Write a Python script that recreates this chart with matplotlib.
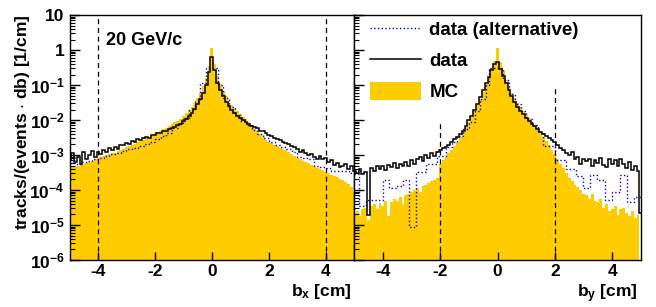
import numpy as np
import matplotlib
matplotlib.use("Agg")
import matplotlib.pyplot as plt
from matplotlib import ticker
from matplotlib.lines import Line2D
from matplotlib.patches import Patch

plt.rcParams['font.family'] = ['Liberation Sans', 'DejaVu Sans']
plt.rcParams['font.weight'] = 'bold'
plt.rcParams['axes.labelweight'] = 'bold'
plt.rcParams['mathtext.fontset'] = 'custom'
plt.rcParams['mathtext.rm'] = 'Liberation Sans:bold'
plt.rcParams['mathtext.bf'] = 'Liberation Sans:bold'
plt.rcParams['mathtext.it'] = 'Liberation Sans:bold'
plt.rcParams['mathtext.default'] = 'bf'
plt.rcParams['axes.unicode_minus'] = False

# bins of 0.1 cm, centres -5.0 ... 5.0 (MC and data)
bin_edges = np.linspace(-5.05, 5.05, 102)

# log10 of tracks/(events db) [1/cm]
bx_mc = [
    -3.37, -3.35, -3.33, -3.30, -3.28, -3.25, -3.22, -3.20, -3.16, -3.12,
    -3.08, -3.06, -3.04, -3.01, -2.98, -2.95, -2.93, -2.89, -2.86, -2.82,
    -2.78, -2.74, -2.71, -2.68, -2.64, -2.60, -2.56, -2.52, -2.48, -2.43,
    -2.38, -2.34, -2.30, -2.26, -2.22, -2.17, -2.12, -2.07, -2.02, -1.96,
    -1.88, -1.80, -1.72, -1.62, -1.50, -1.38, -1.22, -1.02, -0.80, -0.45,
    0.05,
    -0.40, -0.75, -0.98, -1.16, -1.32, -1.45, -1.56, -1.65, -1.74, -1.82,
    -1.90, -1.98, -2.06, -2.14, -2.22, -2.30, -2.40, -2.48, -2.56, -2.63,
    -2.67, -2.71, -2.75, -2.79, -2.83, -2.87, -2.92, -2.98, -3.03, -3.08,
    -3.12, -3.16, -3.20, -3.24, -3.28, -3.32, -3.36, -3.40, -3.44, -3.48,
    -3.52, -3.56, -3.60, -3.64, -3.68, -3.72, -3.77, -3.82, -3.90, -4.05,
]
bx_data = [
    -3.15, -2.95, -3.20, -3.05, -3.25, -2.90, -3.10, -3.00, -2.88, -3.05,
    -2.92, -2.98, -2.85, -2.90, -2.80, -2.86, -2.76, -2.82, -2.72, -2.70,
    -2.66, -2.68, -2.60, -2.62, -2.55, -2.57, -2.52, -2.48, -2.50, -2.44,
    -2.42, -2.38, -2.37, -2.32, -2.30, -2.26, -2.22, -2.20, -2.15, -2.10,
    -2.02, -1.96, -1.88, -1.80, -1.68, -1.55, -1.40, -1.22, -1.00, -0.62,
    -0.19,
    -0.58, -0.95, -1.15, -1.32, -1.48, -1.60, -1.70, -1.80, -1.88, -1.95,
    -2.00, -2.06, -2.10, -2.16, -2.20, -2.24, -2.30, -2.32, -2.38, -2.42,
    -2.46, -2.52, -2.55, -2.58, -2.62, -2.66, -2.68, -2.75, -2.78, -2.82,
    -2.90, -2.86, -2.95, -3.00, -2.96, -3.05, -3.10, -3.02, -3.12, -3.08,
    -3.20, -3.15, -3.28, -3.22, -3.35, -3.30, -3.25, -3.40, -3.32, -3.45,
]
bx_alt_edges = [
    -5.0, -4.8, -4.6, -4.4, -4.2, -4.0, -3.8, -3.6, -3.4, -3.2, -3.0, -2.8,
    -2.6, -2.4, -2.2, -2.0, -1.8, -1.6, -1.4, -1.2, -1.0, -0.8, -0.6, -0.4,
    -0.2, 0.2, 0.4, 0.6, 0.8, 1.0, 1.2, 1.4, 1.6, 1.8, 2.0, 2.2, 2.4, 2.6,
    2.8, 3.0, 3.2, 3.4, 3.6, 3.8, 4.0, 4.2, 4.4, 4.6, 4.8, 5.0,
]
bx_alt = [
    -3.22, -3.25, -3.20, -3.18, -3.12, -3.08, -3.03, -2.98, -2.94, -2.88,
    -2.84, -2.80, -2.74, -2.68, -2.62, -2.55, -2.46, -2.36, -2.24, -2.10,
    -1.95, -1.72, -1.45, -0.95,
    -0.51,
    -1.00, -1.38, -1.62, -1.85, -2.02, -2.15, -2.28, -2.40, -2.52, -2.62,
    -2.70, -2.76, -2.84, -2.92, -3.05, -3.08, -3.12, -3.30, -3.34, -3.36,
    -3.45, -3.47, -3.46, -3.52,
]

by_mc = [
    -4.65, -4.60, -4.75, -4.55, -4.50, -4.85, -4.45, -4.40, -4.55, -4.38,
    -4.45, -4.30, -4.75, -4.35, -4.25, -4.30, -4.20, -4.40, -4.15, -4.10,
    -4.05, -4.00, -3.95, -4.05, -3.88, -3.85, -3.80, -3.75, -3.70, -3.66,
    -3.25, -3.15, -3.05, -2.95, -2.85, -2.75, -2.62, -2.48, -2.35, -2.20,
    -2.05, -1.90, -1.75, -1.58, -1.40, -1.20, -0.98, -0.77, -0.55, -0.30,
    0.06,
    -0.35, -0.60, -0.85, -1.05, -1.22, -1.38, -1.52, -1.64, -1.74, -1.85,
    -1.95, -2.05, -2.15, -2.25, -2.35, -2.48, -2.60, -2.72, -2.85, -2.98,
    -3.12, -3.25, -3.38, -3.50, -3.65, -3.75, -3.85, -3.92, -4.00, -4.10,
    -4.15, -4.25, -4.10, -4.30, -4.35, -4.25, -4.50, -4.40, -4.60, -4.55,
    -4.45, -4.70, -4.55, -4.50, -4.65, -4.75, -4.60, -4.80, -4.70, -9.0,
]
by_data = [
    -3.45, -3.50, -3.40, -3.55, -3.48, -4.70, -3.38, -3.45, -3.30, -3.40,
    -3.30, -3.42, -3.28, -3.35, -3.22, -3.38, -3.25, -3.30, -3.20, -3.32,
    -3.15, -3.25, -3.10, -3.05, -3.18, -3.00, -3.08, -2.95, -3.02, -2.90,
    -2.86, -2.80, -2.76, -2.70, -2.62, -2.55, -2.48, -2.40, -2.30, -2.18,
    -2.00, -1.88, -1.72, -1.55, -1.35, -1.15, -0.95, -0.78, -0.58, -0.40,
    -0.33,
    -0.55, -0.75, -0.95, -1.15, -1.32, -1.48, -1.62, -1.74, -1.84, -1.93,
    -2.02, -2.10, -2.18, -2.26, -2.33, -2.40, -2.46, -2.52, -2.58, -2.64,
    -2.72, -2.80, -2.85, -2.95, -3.00, -2.92, -3.10, -3.05, -3.25, -3.12,
    -3.18, -3.10, -3.30, -3.15, -3.22, -3.08, -3.28, -3.35, -3.12, -3.25,
    -3.15, -3.30, -3.10, -3.25, -3.38, -3.20, -3.42, -3.30, -3.45, -4.65,
]
by_alt_edges = [
    -5.0, -4.85, -4.6, -4.0, -3.8, -3.55, -3.3, -3.1, -2.85, -2.5, -2.1,
    -1.8, -1.6, -1.4, -1.2, -1.0, -0.8, -0.6, -0.4, -0.3, 0.2, 0.4, 0.6,
    0.8, 1.0, 1.2, 1.4, 1.6, 2.0, 2.4, 2.72, 2.98, 3.22, 3.48, 3.75, 3.98,
    4.27, 4.5, 4.75, 5.0,
]
by_alt = [
    -3.55, -4.45, -4.29, -3.72, -3.95, -3.88, -3.72, -5.05, -3.48, -3.25,
    -3.02, -2.78, -2.62, -2.45, -2.25, -2.05, -1.75, -1.40, -1.00,
    -0.51,
    -0.85, -1.25, -1.55, -1.75, -1.98, -2.15, -2.35, -2.75, -3.15, -3.40,
    -3.60, -3.94, -3.57, -3.72, -4.29, -4.06, -3.57, -4.35, -4.20,
]

# dashed cut lines
cuts_bx = [-4, 4]
cuts_bx_top = [10, 10]
cuts_by = [-2, 2]
cuts_by_top = [1e-2, 1e-1]

mc_color = '#ffcc00'
alt_color = '#0000ff'


def log_label(v, pos):
    if v == 1:
        return '1'
    if v == 10:
        return '10'
    return '$10^{%d}$' % int(round(np.log10(v)))


fig = plt.figure(figsize=(6.56, 3.07), dpi=100)
ax1 = fig.add_axes([0.106, 0.153, 0.434, 0.798])
ax2 = fig.add_axes([0.540, 0.153, 0.437, 0.798])

panels = [
    (ax1, bx_mc, bx_data, bx_alt_edges, bx_alt, cuts_bx, cuts_bx_top, 'b$_{x}$ [cm]'),
    (ax2, by_mc, by_data, by_alt_edges, by_alt, cuts_by, cuts_by_top, 'b$_{y}$ [cm]'),
]

for ax, mc, data, alt_edges, alt, cuts, cuts_top, xlab in panels:
    ax.set_yscale('log')
    ax.stairs(10 ** np.array(mc), bin_edges, fill=True, color=mc_color,
              baseline=1e-9, lw=0)
    ax.stairs(10 ** np.array(alt), alt_edges, baseline=None, color=alt_color,
              ls=':', lw=1.0)
    ax.stairs(10 ** np.array(data), bin_edges, baseline=None, color='black',
              lw=1.1)
    ax.vlines(cuts, 1e-6, cuts_top, colors='black', linestyles=(0, (4, 3)),
              lw=0.9)
    ax.set_xlim(-5, 5)
    ax.set_ylim(1e-6, 10)
    ax.set_xticks([-4, -2, 0, 2, 4])
    ax.yaxis.set_major_locator(ticker.LogLocator(base=10, numticks=20))
    ax.yaxis.set_minor_locator(ticker.LogLocator(base=10, subs=np.arange(2, 10), numticks=20))
    ax.yaxis.set_minor_formatter(ticker.NullFormatter())
    ax.yaxis.set_major_formatter(ticker.FuncFormatter(log_label))
    ax.tick_params(axis='x', which='major', direction='in', length=6, width=1,
                   labelsize=12.5, pad=3, top=False)
    ax.tick_params(axis='y', which='major', direction='in', length=7, width=1,
                   labelsize=12.5, right=False)
    ax.tick_params(axis='y', which='minor', direction='in', length=3.5, width=0.8,
                   right=False)
    for sp in ax.spines.values():
        sp.set_linewidth(1.0)
    ax.set_xlabel(xlab, fontsize=12.5, loc='right')
    ax.xaxis.set_label_coords(0.99, -0.09)

ax2.tick_params(axis='y', which='both', labelleft=False)

ax1.set_ylabel('tracks/(events $\\cdot$ db) [1/cm]', fontsize=12.5, loc='top')
ax1.yaxis.set_label_coords(-0.132, 1.0)

ax1.text(0.128, 0.898, '20 GeV/c', transform=ax1.transAxes, fontsize=13,
         va='center', ha='left')

handles = [
    Line2D([], [], color=alt_color, ls=':', lw=1.0),
    Line2D([], [], color='black', lw=1.1),
    Patch(facecolor=mc_color, edgecolor='none'),
]
ax2.legend(handles, ['data (alternative)', 'data', 'MC'], loc='upper left',
           bbox_to_anchor=(0.056, 0.98), frameon=False, fontsize=13.5,
           handlelength=2.7, handleheight=1.1, labelspacing=0.62,
           handletextpad=0.45, borderaxespad=0, borderpad=0)

fig.savefig('out.png', dpi=100)
